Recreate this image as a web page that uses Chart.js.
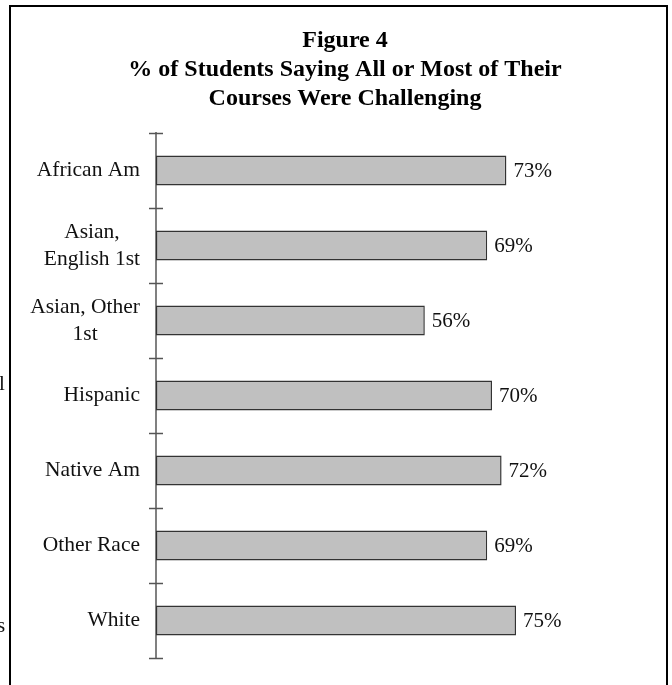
<!DOCTYPE html>
<html>
<head>
<meta charset="utf-8">
<script src="https://cdn.jsdelivr.net/npm/chart.js@4.4.1/dist/chart.umd.min.js"></script>
<style>
  html, body { margin: 0; padding: 0; background: #fff; overflow: hidden; }
  #wrap { position: relative; width: 672px; height: 685px; overflow: hidden; }
  #frame { position: absolute; left: 9px; top: 5px; width: 655px; height: 700px;
           border-left: 2px solid #000; border-top: 2px solid #000; border-right: 2px solid #000;
           pointer-events: none; }
  .cut { position: absolute; font-family: "Liberation Serif", serif; font-size: 21px;
         line-height: 1; color: #111; }
</style>
</head>
<body>
<div id="wrap">
  <canvas id="myChart" width="672" height="685"></canvas>
  <div id="frame"></div>
  <div class="cut" style="left:-1px; top:373px;">l</div>
  <div class="cut" style="left:-3px; top:615px;">s</div>
</div>
<script>
"use strict";

// chart data
const categories = [['African Am'], ['Asian,', 'English 1st'], ['Asian, Other', '1st'],
	['Hispanic'], ['Native Am'], ['Other Race'], ['White']];
const percentValues = [73, 69, 56, 70, 72, 69, 75];
const titleLines = ['Figure 4', '% of Students Saying All or Most of Their', 'Courses Were Challenging'];

const serif = '"Liberation Serif", "Times New Roman", serif';

// draws the crossing tick marks, the category labels and the value labels
const labelPlugin = {
	id: 'labelPlugin',
	afterDraw(chart) {
		const ctx = chart.ctx;
		const yScale = chart.scales.y;
		const meta = chart.getDatasetMeta(0);
		const axisX = chart.chartArea.left;
		ctx.save();

		ctx.strokeStyle = '#555';
		ctx.lineWidth = 1.5;
		for (let i = 0; i <= categories.length; i++) {
			const y = Math.round(yScale.getPixelForValue(i - 0.5)) + 0.5;
			ctx.beginPath();
			ctx.moveTo(axisX - 7, y);
			ctx.lineTo(axisX + 7, y);
			ctx.stroke();
		}

		ctx.font = '21.5px ' + serif;
		ctx.fillStyle = '#111';
		ctx.textBaseline = 'middle';
		ctx.textAlign = 'center';
		categories.forEach((lines, i) => {
			const yc = yScale.getPixelForTick(i);
			const blockW = Math.max(...lines.map(l => ctx.measureText(l).width));
			const cx = axisX - 16 - blockW / 2;
			lines.forEach((line, j) => {
				ctx.fillText(line, cx, yc + (j - (lines.length - 1) / 2) * 27);
			});
		});

		ctx.font = '21px ' + serif;
		ctx.textAlign = 'left';
		meta.data.forEach((bar, i) => {
			ctx.fillText(percentValues[i] + '%', bar.x + 7, bar.y + 1);
		});
		ctx.restore();
	}
};

const data = {
	labels: categories,
	datasets: [{
		data: percentValues,
		backgroundColor: '#c0c0c0',
		borderColor: '#333',
		borderWidth: 1.5,
		borderSkipped: false,
		barPercentage: 0.4,
		categoryPercentage: 1
	}]
};

const config = {
	type: 'bar',
	data: data,
	options: {
		indexAxis: 'y',
		responsive: false,
		animation: false,
		layout: { padding: { left: 54, right: 36, top: 0, bottom: 27 } },
		plugins: {
			legend: { display: false },
			tooltip: { enabled: false },
			title: {
				display: true,
				text: titleLines,
				color: '#000',
				font: { family: serif, size: 24, weight: 'bold', lineHeight: 1.21 },
				padding: { top: 26, bottom: 20 }
			}
		},
		scales: {
			x: { display: false, min: 0, max: 100 },
			y: {
				afterFit: (scale) => { scale.width = 102; },
				ticks: { display: false },
				grid: { display: false, drawTicks: false },
				border: { display: true, color: '#808080', width: 2 }
			}
		}
	},
	plugins: [labelPlugin]
};

const myChart = new Chart(document.getElementById('myChart'), config);
</script>
</body>
</html>
